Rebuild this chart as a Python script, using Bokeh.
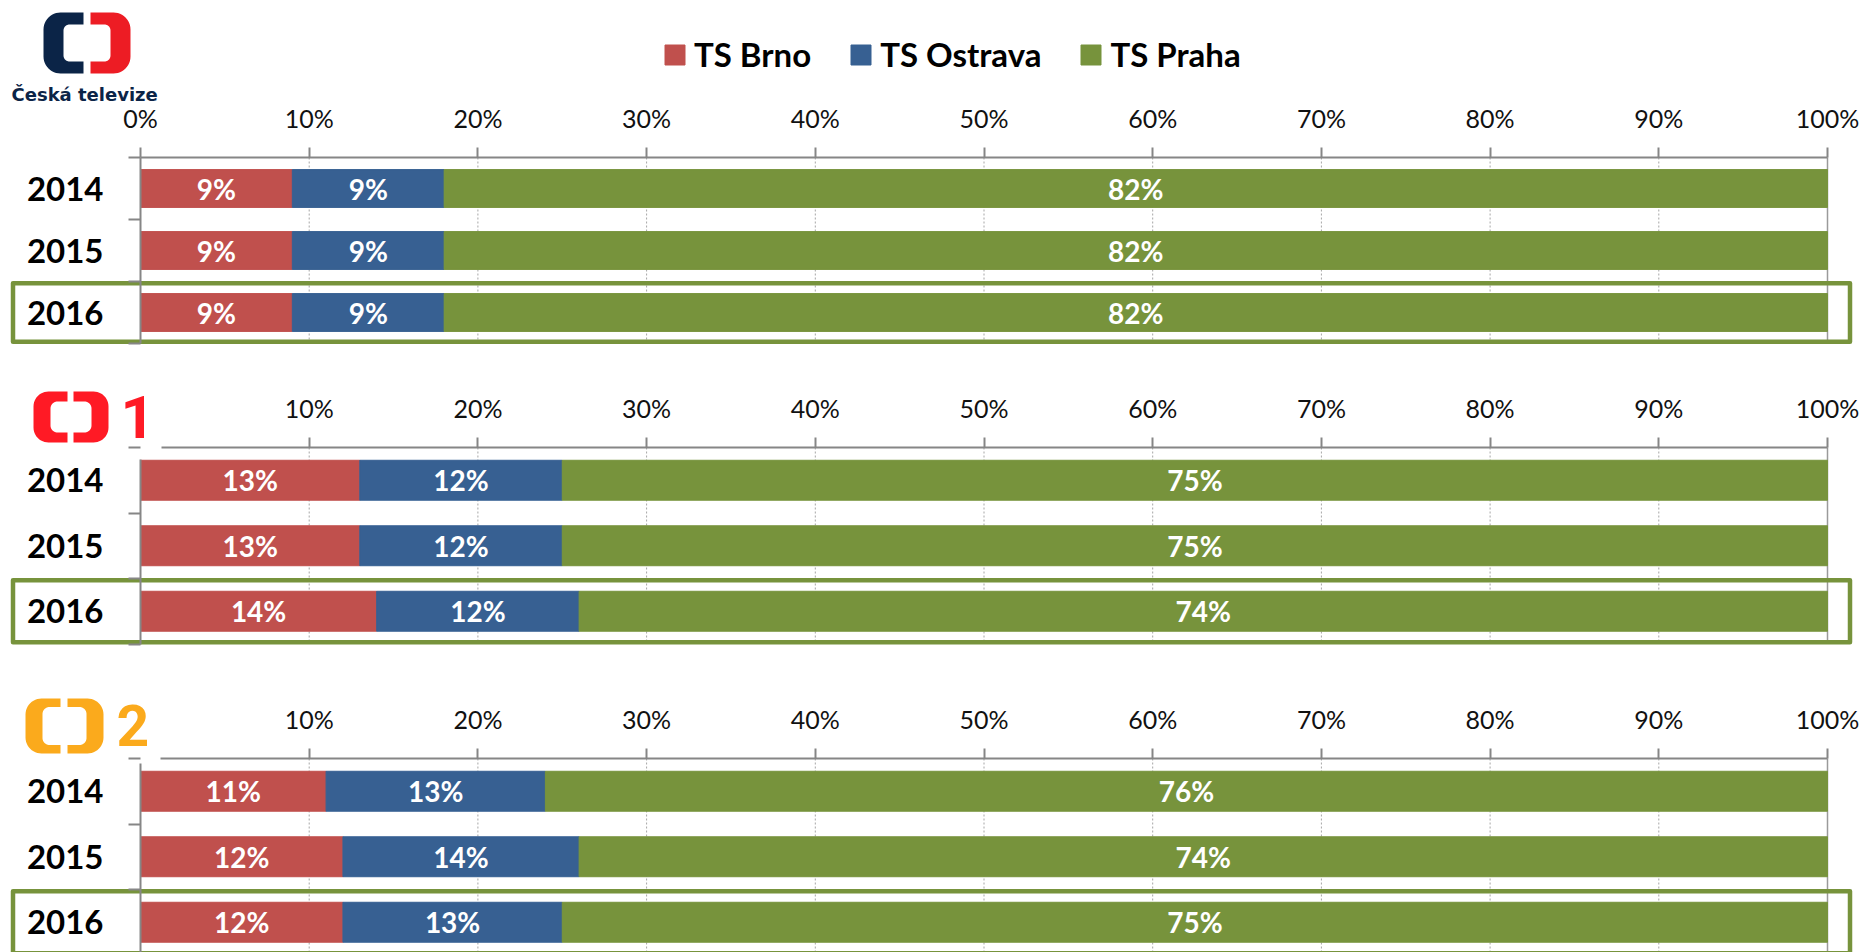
import math
from bokeh.plotting import figure
from bokeh.layouts import column
from bokeh.models import (ColumnDataSource, Range1d, FixedTicker, PrintfTickFormatter,
                          Legend, LegendItem)
from bokeh.core.properties import value
from bokeh.embed import file_html
from bokeh.resources import INLINE

# ---------------- data ----------------
YEARS = ["2014", "2015", "2016"]
SERIES = ["TS Brno", "TS Ostrava", "TS Praha"]
CT_BRNO = [9, 9, 9]
CT_OSTRAVA = [9, 9, 9]
CT_PRAHA = [82, 82, 82]
CT1_BRNO = [13, 13, 14]
CT1_OSTRAVA = [12, 12, 12]
CT1_PRAHA = [75, 75, 74]
CT2_BRNO = [11, 12, 12]
CT2_OSTRAVA = [13, 14, 13]
CT2_PRAHA = [76, 74, 75]
PCT_TICKS = [0, 10, 20, 30, 40, 50, 60, 70, 80, 90, 100]
HIGHLIGHT_YEAR = "2016"

# ---------------- styles / layout ----------------
COLORS = ["#C0504D", "#376092", "#77933C"]
GREEN_BOX = "#77933C"
AXIS_GRAY = "#868686"
GRID_GRAY = "#a6a6a6"
NAVY = "#0b2447"
CT_RED = "#ed1c24"
CT1_RED = "#ff1a25"
CT2_ORANGE = "#fbaa1c"

W = 1865
X0_PAGE = 140
X100_PAGE = 1827
PX_PER_PCT = (X100_PAGE - X0_PAGE) / 100.0
XS = -X0_PAGE / PX_PER_PCT
XE = (W - X0_PAGE) / PX_PER_PCT
BAR_H = 0.61
N = len(YEARS)


def dx(px):
    return (px - X0_PAGE) / PX_PER_PCT


def bracket(x0, y0, w, h, bar, arm, ro, ri, right=False, n=12):
    pts = [(w, 0)]
    for k in range(n + 1):
        a = math.radians(270 - 90 * k / n)
        pts.append((ro + ro * math.cos(a), ro + ro * math.sin(a)))
    for k in range(n + 1):
        a = math.radians(180 - 90 * k / n)
        pts.append((ro + ro * math.cos(a), h - ro + ro * math.sin(a)))
    pts.append((w, h))
    pts.append((w, h - arm))
    for k in range(n + 1):
        a = math.radians(90 + 90 * k / n)
        pts.append((bar + ri + ri * math.cos(a), h - arm - ri + ri * math.sin(a)))
    for k in range(n + 1):
        a = math.radians(180 + 90 * k / n)
        pts.append((bar + ri + ri * math.cos(a), arm + ri + ri * math.sin(a)))
    pts.append((w, arm))
    if right:
        pts = [(w - x, y) for x, y in pts]
    return [x0 + x for x, _ in pts], [y0 + y for _, y in pts]


# panel geometry (page px): figure top, figure height, axis line y, band height
PANELS = [
    dict(top=0, height=370, axis=157, band=62.0, xbound=X0_PAGE, ybound=157),
    dict(top=370, height=310, axis=447, band=65.5, xbound=161, ybound=459),
    dict(top=680, height=272, axis=758, band=65.5, xbound=160, ybound=763),
]


def make_panel(brno, ostrava, praha, spec, ticks, logos, texts):
    A, b = spec["axis"], spec["band"]

    def dy(py):
        return -0.5 + (py - A) / b

    y_top = dy(spec["top"])
    y_bot = dy(spec["top"] + spec["height"])
    p = figure(width=W, height=spec["height"], x_range=Range1d(XS, XE),
               y_range=Range1d(y_bot, y_top),
               x_axis_location="above", y_axis_location="left",
               toolbar_location=None, output_backend="svg", min_border=0,
               outline_line_color=None, background_fill_color="white",
               border_fill_color="white")
    p.grid.visible = False

    # top percentage axis
    ax = p.xaxis[0]
    ax.fixed_location = -0.5
    ax.bounds = (dx(spec["xbound"]), 100)
    ax.ticker = FixedTicker(ticks=ticks)
    ax.formatter = PrintfTickFormatter(format="%d%%")
    ax.axis_line_color = AXIS_GRAY
    ax.axis_line_width = 2
    ax.major_tick_out = 10
    ax.major_tick_in = 0
    ax.major_tick_line_color = AXIS_GRAY
    ax.major_tick_line_width = 2
    ax.minor_tick_line_color = None
    ax.minor_tick_out = 0
    ax.major_label_text_font = "Lato"
    ax.major_label_text_font_size = "25px"
    ax.major_label_text_color = "#111111"
    ax.major_label_standoff = 15

    # category (year) axis at 0 %
    ya = p.yaxis[0]
    ya.fixed_location = 0
    ya.bounds = (dy(spec["ybound"]), N - 0.5)
    ya.ticker = FixedTicker(ticks=list(range(N)),
                            minor_ticks=[i - 0.5 for i in range(N + 1)])
    ya.major_label_overrides = {i: y for i, y in enumerate(YEARS)}
    ya.major_tick_line_color = None
    ya.major_tick_out = 0
    ya.major_tick_in = 0
    ya.minor_tick_out = 12
    ya.minor_tick_in = 0
    ya.minor_tick_line_color = AXIS_GRAY
    ya.minor_tick_line_width = 2
    ya.axis_line_color = AXIS_GRAY
    ya.axis_line_width = 2
    ya.major_label_text_font = "Lato"
    ya.major_label_text_font_style = "bold"
    ya.major_label_text_font_size = "33px"
    ya.major_label_text_color = "#000000"
    ya.major_label_standoff = 25

    # dotted vertical gridlines and the solid 100 % line
    gx = [t for t in PCT_TICKS if 0 < t < 100]
    p.segment(x0=gx, y0=[-0.5] * len(gx), x1=gx, y1=[N - 0.5] * len(gx),
              line_color=GRID_GRAY, line_dash="2 2", line_width=1)
    p.segment(x0=[PCT_TICKS[-1]], y0=[-0.5], x1=[PCT_TICKS[-1]], y1=[N - 0.5],
              line_color="#9a9a9a", line_width=1.5)

    src = ColumnDataSource(dict(y=list(range(N)), brno=brno, ostrava=ostrava, praha=praha))
    rs = p.hbar_stack(["brno", "ostrava", "praha"], y="y", height=BAR_H,
                      color=COLORS, source=src)

    tx, ty, tt = [], [], []
    for i in range(N):
        left = 0
        for v in (brno[i], ostrava[i], praha[i]):
            tx.append(left + v / 2.0)
            ty.append(i)
            tt.append(f"{v}%")
            left += v
    p.text(x="x", y="y", text="t", source=ColumnDataSource(dict(x=tx, y=ty, t=tt)),
           text_font=value("Lato"), text_font_style="bold", text_font_size="28px",
           text_color="white", text_align="center", text_baseline="middle")

    # highlight frame around the latest year
    hi = YEARS.index(HIGHLIGHT_YEAR)
    inset = 1.8 / b
    p.quad(left=[dx(12.5)], right=[dx(1849.5)], top=[hi - 0.5 + inset],
           bottom=[hi + 0.5 - inset], fill_color=None, line_color=GREEN_BOX,
           line_width=4.5, line_join="round")

    # logo shapes
    if logos:
        pxs, pys, pcs = [], [], []
        for (bx, by, bw, bh, bar, arm, ro, ri, right, c) in logos:
            xs, ys = bracket(bx, by, bw, bh, bar, arm, ro, ri, right=right)
            pxs.append([dx(x) for x in xs])
            pys.append([dy(y) for y in ys])
            pcs.append(c)
        p.patches(xs=pxs, ys=pys, fill_color=pcs, line_color=None)
    for (t, x, y, font, size, c) in texts:
        p.text(x=[dx(x)], y=[dy(y)], text=[t], text_font=value(font),
               text_font_style="bold", text_font_size=size, text_color=c,
               text_align="left", text_baseline="middle")
    return p, rs


p1, rs1 = make_panel(CT_BRNO, CT_OSTRAVA, CT_PRAHA, PANELS[0], PCT_TICKS,
                     logos=[(43, 12, 40, 61, 20, 12, 17, 6, False, NAVY),
                            (90, 12, 40, 61, 20, 12, 17, 6, True, CT_RED)],
                     texts=[("Česká televize", 11, 93.5, "DejaVu Sans", "18px", NAVY)])
p2, _ = make_panel(CT1_BRNO, CT1_OSTRAVA, CT1_PRAHA, PANELS[1], PCT_TICKS[1:],
                   logos=[(33, 391, 34, 51, 17, 10, 15, 7, False, CT1_RED),
                          (73, 391, 35, 51, 17, 10, 15, 7, True, CT1_RED)],
                   texts=[("1", 120, 416.5, "Roboto", "60px", CT1_RED)])
p3, _ = make_panel(CT2_BRNO, CT2_OSTRAVA, CT2_PRAHA, PANELS[2], PCT_TICKS[1:],
                   logos=[(25, 698, 35, 55, 17, 8.5, 16, 7, False, CT2_ORANGE),
                          (67, 698, 36, 55, 17, 8.5, 16, 7, True, CT2_ORANGE)],
                   texts=[("2", 116, 725, "Roboto", "57px", CT2_ORANGE)])

legend = Legend(items=[LegendItem(label=s, renderers=[r]) for s, r in zip(SERIES, rs1)],
                location=(662, 370 - 74), orientation="horizontal",
                glyph_width=25, glyph_height=25, label_standoff=7, spacing=37,
                padding=0, margin=0, border_line_color=None, background_fill_alpha=0,
                label_text_font="Lato", label_text_font_style="bold",
                label_text_font_size="33px", label_text_color="#000000")
p1.add_layout(legend, "center")

layout = column(p1, p2, p3, spacing=0)
open("out.html", "w").write(file_html(layout, INLINE))
